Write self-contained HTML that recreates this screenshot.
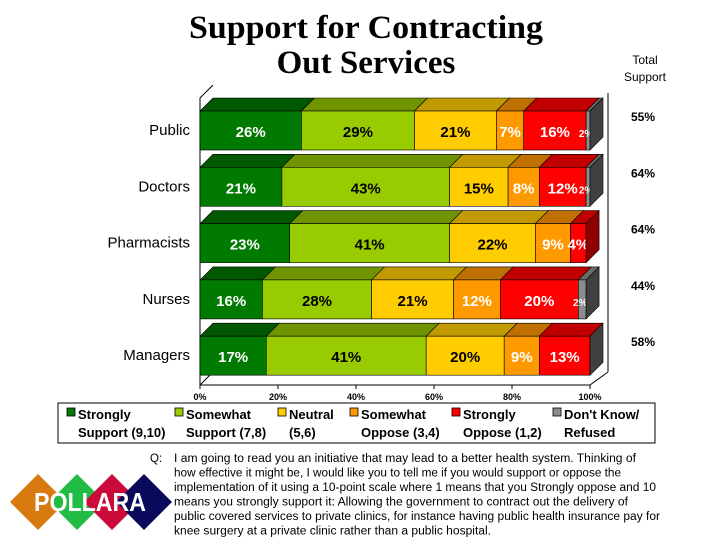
<!DOCTYPE html>
<html><head><meta charset="utf-8"><style>
body{margin:0;background:#fff;}
svg text{font-family:"Liberation Sans",Arial,sans-serif;}
</style></head><body>
<svg id="c" width="720" height="540" xmlns="http://www.w3.org/2000/svg">
<g font-weight="bold" font-size="33" fill="#000" text-anchor="middle">
<text x="366" y="38" style="font-family:'Liberation Serif',serif" textLength="354" lengthAdjust="spacingAndGlyphs">Support for Contracting</text>
<text x="366" y="73" style="font-family:'Liberation Serif',serif">Out Services</text>
</g>
<g font-size="12" text-anchor="middle">
<text x="645" y="64">Total</text><text x="645" y="81">Support</text>
</g>
<g id="plot"></g>
<g>
<rect x="58" y="403" width="597" height="40" fill="none" stroke="#000" stroke-width="1"/>
<g id="leg" font-size="13" font-weight="bold"></g>
</g>
<g font-size="11.5" fill="#000">
<text x="150" y="462">Q:</text>
<text x="174" y="462" textLength="462" lengthAdjust="spacingAndGlyphs">I am going to read you an initiative that may lead to a better health system.  Thinking of</text>
<text x="174" y="476.5" textLength="447" lengthAdjust="spacingAndGlyphs">how effective it might be, I would like you to tell me if you would support or oppose the</text>
<text x="174" y="491" textLength="482" lengthAdjust="spacingAndGlyphs">implementation of it using a 10-point scale where 1 means that you Strongly oppose and 10</text>
<text x="174" y="505.5" textLength="454" lengthAdjust="spacingAndGlyphs">means you strongly support it:  Allowing the government to contract out the delivery of</text>
<text x="174" y="520" textLength="486" lengthAdjust="spacingAndGlyphs">public covered services to private clinics, for instance having public health insurance pay for</text>
<text x="174" y="534.5" textLength="317" lengthAdjust="spacingAndGlyphs">knee surgery at a private clinic rather than a public hospital.</text>
</g>
<g>
<polygon points="38,474 66,502 38,530 10,502" fill="#d97a10"/>
<polygon points="77,474 105,502 77,530 49,502" fill="#22bb44"/>
<polygon points="112,474 140,502 112,530 84,502" fill="#cc0a3a"/>
<polygon points="144,474 172,502 144,530 116,502" fill="#0a0a5a"/>
<text x="90" y="511" text-anchor="middle" font-size="26" font-weight="bold" fill="#fff" textLength="112" lengthAdjust="spacingAndGlyphs">POLLARA</text>
</g>
</svg>
<script>
const categories=["Public","Doctors","Pharmacists","Nurses","Managers"];
const strongSupport=[26,21,23,16,17];
const someSupport=[29,43,41,28,41];
const neutral=[21,15,22,21,20];
const someOppose=[7,8,9,12,9];
const strongOppose=[16,12,4,20,13];
const dontKnow=[2,2,0,2,1];
const totalSupport=["55%","64%","64%","44%","58%"];
const xTicks=[0,20,40,60,80,100];
const seriesNames=["Strongly Support (9,10)","Somewhat Support (7,8)","Neutral (5,6)","Somewhat Oppose (3,4)","Strongly Oppose (1,2)","Don't Know/ Refused"];
const NS="http://www.w3.org/2000/svg";
const series=[strongSupport,someSupport,neutral,someOppose,strongOppose,dontKnow];
const front=["#007a00","#99cc00","#ffcc00","#ff9900","#ff0000","#8c8c8c"];
const topc=["#005800","#6f9400","#c09a00","#c07000","#c00000","#6a6a6a"];
const sidec=["#004000","#507000","#907300","#905000","#900000","#404040"];
const txtc=["#fff","#000","#000","#fff","#fff","#fff"];
const X0=200,W=390,DX=13,DY=13,H=39;
const xs=v=>X0+v/100*W;
const rowY=i=>111+i*56.3;
function el(t,a,p){const e=document.createElementNS(NS,t);for(const k in a)e.setAttribute(k,a[k]);p.appendChild(e);return e;}
const plot=document.getElementById('plot');
el('polyline',{points:`${X0},385 ${X0},98 ${X0+DX},${98-DY+0}`,fill:'none',stroke:'#000','stroke-width':1},plot);
el('line',{x1:X0,y1:385,x2:xs(100),y2:385,stroke:'#000','stroke-width':1},plot);
el('line',{x1:xs(100),y1:385,x2:xs(100)+DX+5,y2:372,stroke:'#000'},plot);
el('line',{x1:xs(100)+DX+5,y1:372,x2:xs(100)+DX+5,y2:93,stroke:'#000'},plot);
el('line',{x1:X0,y1:385,x2:X0+DX,y2:372,stroke:'#000'},plot);
xTicks.forEach(t=>{
  const g=el('g',{},plot);
  
  
  el('line',{x1:xs(t),y1:385,x2:xs(t),y2:389,stroke:'#000'},g);
  const tx=el('text',{x:xs(t),y:400,'text-anchor':'middle','font-size':9,'font-weight':'bold'},g);
  tx.textContent=t+'%';
});
categories.forEach((c,i)=>{
  const y=rowY(i);
  const g=el('g',{},plot);
  
  
  const lab=el('text',{x:190,y:y+24,'text-anchor':'end','font-size':15},g);
  
  
  lab.textContent=c;
  const tot=el('text',{x:643,y:y+10,'text-anchor':'middle','font-size':12,'font-weight':'bold'},g);
  
  
  tot.textContent=totalSupport[i];
  let cum=0,last=-1;
  series.forEach((s,k)=>{
    const v=s[i]; if(v<=0)return;
    const a=xs(cum),b=xs(Math.min(cum+v,100));
    const seg=el('g',{},g);
    
    
    el('polygon',{points:`${a},${y} ${a+DX},${y-DY} ${b+DX},${y-DY} ${b},${y}`,fill:topc[k],stroke:'#000','stroke-width':0.6},seg);
    el('rect',{x:a,y:y,width:b-a,height:H,fill:front[k],stroke:'#000','stroke-width':0.6},seg);
    if(v>=2){const t=el('text',{x:(a+b)/2+(k==5?-2:0),y:y+26,'text-anchor':'middle','font-size':k==5?10:15,'font-weight':'bold',fill:txtc[k]},seg);t.textContent=v+'%';}
    cum+=v;last=k;
  });
  const e=xs(Math.min(cum,100));
  el('polygon',{points:`${e},${y} ${e+DX},${y-DY} ${e+DX},${y+H-DY} ${e},${y+H}`,fill:sidec[last],stroke:'#000','stroke-width':0.6},g);
});
const leg=document.getElementById('leg');
const lx=[67,175,278,350,452,553];
seriesNames.forEach((n,k)=>{
  const g=el('g',{},leg);
  
  
  el('rect',{x:lx[k],y:408,width:8,height:8,fill:front[k],stroke:'#000','stroke-width':0.8},g);
  const parts=n==="Don't Know/ Refused"?["Don't Know/","Refused"]:n.replace(/ \(/,'|(').replace(/^(\S+) (\S+)\|/,'$1|$2 ').split('|');
  const t1=el('text',{x:lx[k]+11,y:419},g);t1.textContent=parts[0];
  const t2=el('text',{x:lx[k]+11,y:437},g);t2.textContent=parts[1]||'';
});
</script>
</body></html>
